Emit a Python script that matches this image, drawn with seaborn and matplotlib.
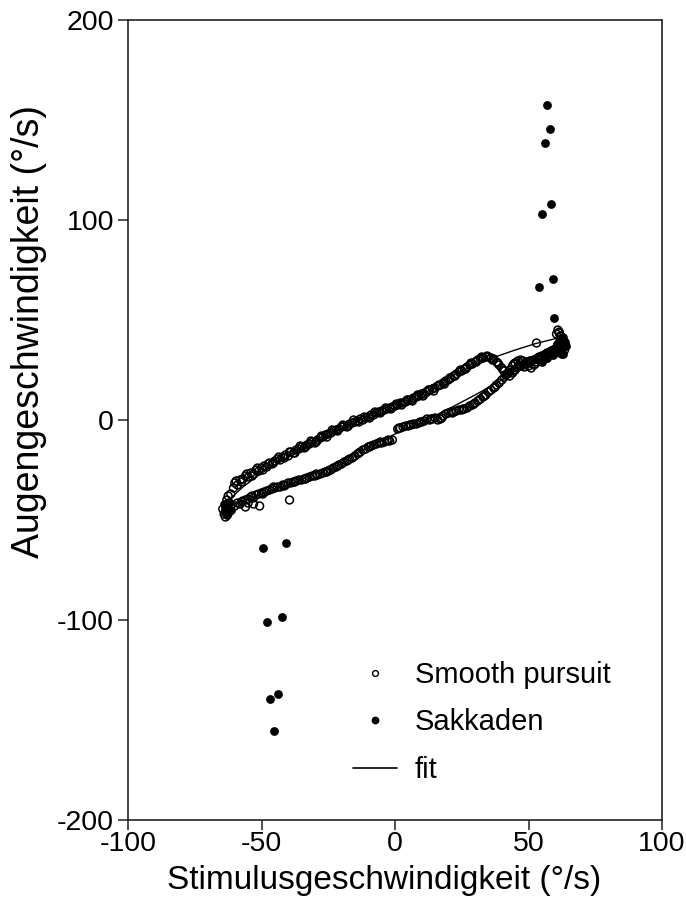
import matplotlib
matplotlib.use("Agg")
import matplotlib.pyplot as plt
from matplotlib.lines import Line2D
import seaborn as sns
import pandas as pd

# ---------------- data ----------------
# Smooth pursuit: upper branch of the loop
sp_upper_x = [-61.5, -60.5, -60, -59, -58, -57, -56, -55, -54, -53, -52, -51, -50, -49, -48, -47, -46, -45,
              -44, -43, -42, -41, -40, -39, -38, -37, -36, -35, -34, -33, -32, -31, -30, -29, -28, -27, -26,
              -25, -24, -23, -22, -21, -20, -19, -18, -17, -16, -15, -14, -13, -12, -11, -10, -9, -8, -7,
              -6, -5, -4, -3, -2, -1, 0, 1, 2, 3, 4, 5, 6, 7, 8, 9, 10, 11, 12, 13, 14, 15, 16, 17, 18,
              19, 20, 21, 22, 23, 24, 25, 26, 27, 28, 29, 30, 31, 32, 33, 34, 35, 36, 37, 38, 39, 40, 41,
              42, 43, 44, 45, 46, 47, 48, 49, 50, 51, 52, 53, 54, 55, 56, 57, 58, 59, 60, 61, 62]
sp_upper_y = [-37, -34, -31.5, -32.5, -30, -29.5, -28, -28.5, -26.5, -27, -25, -25.5, -24, -23, -23.5, -21.5,
              -22, -20.5, -19.5, -20, -18.5, -17.5, -18, -16, -16.5, -15, -14.5, -13.5, -14, -12.5, -12, -11,
              -11.5, -10, -9, -8.5, -7.5, -7, -6.5, -5.5, -5, -4.5, -3.5, -3, -3.5, -2, -1.5, -1, -0.5, 0.5,
              0, 1, 1.5, 2.5, 2.5, 3.5, 4, 4.5, 5, 5.5, 6, 6.5, 7, 7.5, 8.5, 8.5, 9, 10, 10, 11, 11.5, 12,
              13, 13, 14, 15, 15.5, 16, 17, 17.5, 18.5, 19.5, 20, 21, 22, 23, 24, 24.5, 25.5, 26.5, 27.5,
              28, 29, 30, 30.5, 31, 31.5, 31.5, 31, 30.5, 29, 27.5, 26, 24.5, 23, 22, 23.5, 25, 26.5, 27,
              27.5, 28, 27, 26, 27.5, 29, 30, 31, 32, 32.5, 33.5, 34.5, 35.5, 37, 38]
# Smooth pursuit: second pass along the upper branch
sp_upper2_x = [-59.5, -57.5, -55.5, -53.5, -51.5, -49.5, -47.5, -45.5, -43.5, -41.5, -39.5, -37.5, -35.5,
               -33.5, -31.5, -29.5, -27.5, -25.5, -23.5, -21.5, -19.5, -17.5, -15.5, -13.5, -11.5, -9.5,
               -7.5, -5.5, -3.5, -1.5, 0.5, 2.5, 4.5, 6.5, 8.5, 10.5, 12.5, 14.5, 16.5, 18.5, 20.5, 22.5,
               24.5, 26.5, 28.5, 30.5, 32.5, 34.5, 36.5, 38.5, 40.5, 42.5, 44.5, 46.5, 48.5, 50.5, 52.5,
               54.5, 56.5, 58.5, 60.5]
sp_upper2_y = [-30.5, -31, -27, -28, -24, -25, -22, -21.5, -18.5, -19, -16, -16.5, -13, -13.5, -10.5, -11,
               -8, -8.5, -5, -5.5, -2.5, -3, 0, -1, 1.5, 1, 4, 3.5, 6, 5.5, 8, 7.5, 10, 9.5, 12.5, 12, 15,
               14.5, 17.5, 18, 21, 22, 25, 25.5, 28.5, 29, 31.5, 32, 30, 28.5, 25, 23.5, 24.5, 27.5, 26.5,
               28.5, 28, 31.5, 31, 34.5, 35]
# Smooth pursuit: lower branch of the loop
sp_lower_x = [-60, -59, -58, -57, -56, -55, -54, -53, -52, -51, -50, -49, -48, -47, -46, -45, -44, -43, -42,
              -41, -40, -39, -38, -37, -36, -35, -34, -33, -32, -31, -30, -29, -28, -27, -26, -25, -24, -23,
              -22, -21, -20, -19, -18, -17, -16, -15, -14, -13, -12, -11, -10, -9, -8, -7, -6, -5, -4, -3,
              -2, -1, 1, 2, 3, 4, 5, 6, 7, 8, 9, 10, 11, 12, 13, 14, 15, 16, 17, 18, 19, 20, 21, 22, 23,
              24, 25, 26, 27, 28, 29, 30, 31, 32, 33, 34, 35, 36, 37, 38, 39, 40, 41, 42, 43, 44, 45, 46,
              47, 48, 49, 50, 51, 52, 53, 54, 55, 56, 57, 58, 59, 60, 61]
sp_lower_y = [-43, -41.5, -42, -40.5, -40, -39.5, -38.5, -39, -37.5, -37, -36.5, -36, -35.5, -35, -34.5, -34,
              -33.5, -33.5, -32.5, -32.5, -31.5, -31.5, -31, -30.5, -30, -30, -29.5, -29, -28.5, -28, -28,
              -27.5, -27, -26.5, -26, -25.5, -25, -24, -23.5, -22.5, -22, -21, -20.5, -19.5, -19, -18, -17,
              -16, -15, -14.5, -13.5, -13, -12.5, -12, -11.5, -11.5, -11, -10.5, -10.5, -10, -4.5, -4,
              -3.5, -3, -3, -2.5, -2, -2, -1.5, -1, -0.5, 0.5, 0, 0.5, 1, 0, 0.5, 2, 3, 3.5, 4, 4, 4.5, 5,
              5, 5.5, 6, 7, 7.5, 8.5, 9.5, 10.5, 11.5, 12.5, 14, 15, 16, 17.5, 18.5, 20, 21.5, 23, 25, 27,
              28.5, 29.5, 30, 29.5, 29, 29, 29.5, 30, 30.5, 31.5, 32, 32.5, 33.5, 34, 34.5, 35.5, 36.5]
# Smooth pursuit: second pass along the lower branch
sp_lower2_x = [-57.5, -53.5, -49.5, -45.5, -41.5, -37.5, -33.5, -29.5, -25.5, -21.5, -17.5, -13.5, -9.5,
               -5.5, -2.5, 1.5, 5.5, 9.5, 13.5, 17.5, 21.5, 25.5, 29.5, 33.5, 37.5, 41.5, 44.5, 47.5, 50.5,
               53.5, 56.5, 59.5]
sp_lower2_y = [-41, -38, -37, -33.5, -33, -31, -29.5, -27, -26, -23, -20, -16.5, -13.5, -11, -10, -4, -2.5,
               -1, 0.5, 1, 3.5, 5.5, 8, 12, 16.5, 22.5, 28, 29.5, 29.5, 31, 33, 35]
# Smooth pursuit: turning-point clusters and isolated points
sp_extra_x = [61.5, 62, 62.5, 63, 63.5, 62.5, 61, 63, 62, 61.5, 60.5,
              -63, -63.5, -62.5, -64, -62, -63, -62.5, -61.5, -64.5, -63.5, -55, -53, -56,
              -50.7, -39.5, 53, 61, 61.5]
sp_extra_y = [38.5, 40, 36, 38, 35, 33, 34, 41, 42, 44, 43,
              -44, -46, -42, -47, -45.5, -40, -38, -43, -44.5, -48.5, -41.5, -42, -43.5,
              -43, -40, 38.5, 45, 43.5]

# Sakkaden (filled points)
sak_x = [57.0, 57.9, 56.0, 58.5, 55.1, 59.1, 54.1, 59.7,
         60.5, 62, 63, 61.5, 63.5, 62.5, 64, 55, 57, 59,
         -41.0, -49.3, -42.4, -48.1, -43.7, -46.7, -45.2,
         -63.5, -62.5, -64, -61.5, -63, -62]
sak_y = [157.5, 145.3, 138.7, 107.8, 103.2, 70.3, 66.3, 50.8,
         38, 36, 33, 34, 39, 41, 37, 29, 31, 32.5,
         -61.7, -63.8, -98.3, -101, -137.2, -139.3, -155.5,
         -44, -46.5, -42, -45, -47.5, -41]

# Fit curve (closed loop)
fit_x = [-63.5, -62, -59.5, -55, -50, -45, -38.3, -30, -20, -7, 0, 9.2, 20, 30, 40, 48, 55, 60, 63,
         60.4, 52.9, 45, 37.9, 30, 20, 10, 0, -10, -20, -30, -40, -50, -57, -61, -63.5]
fit_y = [-44.5, -43.5, -41.7, -39.5, -37, -34.5, -31.7, -26.5, -20, -11.7, -7, -1.7, 5.5, 12.5, 20, 27, 33,
         37.5, 41, 40.8, 38.3, 35, 31.7, 27.5, 21.5, 15, 8.5, 2, -4.5, -11.5, -18.5, -26.5, -33.5, -38.5,
         -44.5]

x_ticks = [-100, -50, 0, 50, 100]
y_ticks = [-200, -100, 0, 100, 200]
x_label = "Stimulusgeschwindigkeit (°/s)"
y_label = "Augengeschwindigkeit (°/s)"
legend_labels = ["Smooth pursuit", "Sakkaden", "fit"]

# ---------------- figure ----------------
sns.set_theme(style="white")
plt.rcParams["font.family"] = ["Liberation Sans", "DejaVu Sans"]

fig = plt.figure(figsize=(6.86, 9.11), dpi=100)
ax = fig.add_axes([128 / 686, 91 / 911, 534 / 686, 800 / 911])

sp_df = pd.DataFrame({"x": sp_upper_x + sp_upper2_x + sp_lower_x + sp_lower2_x + sp_extra_x,
                      "y": sp_upper_y + sp_upper2_y + sp_lower_y + sp_lower2_y + sp_extra_y})
sak_df = pd.DataFrame({"x": sak_x, "y": sak_y})
fit_df = pd.DataFrame({"x": fit_x, "y": fit_y})

sns.lineplot(data=fit_df, x="x", y="y", sort=False, estimator=None, color="black",
             linewidth=1.0, ax=ax, zorder=3)
sns.scatterplot(data=sp_df, x="x", y="y", ax=ax, s=32, marker="o",
                facecolors="none", edgecolors="black", linewidth=1.1, zorder=2)
sns.scatterplot(data=sak_df, x="x", y="y", ax=ax, s=40, marker="o",
                color="black", edgecolor="black", linewidth=0, zorder=4)

ax.set_xlim(-100, 100)
ax.set_ylim(-200, 200)
ax.set_xticks(x_ticks)
ax.set_yticks(y_ticks)
ax.set_xticklabels([str(v) for v in x_ticks])
ax.set_yticklabels([str(v) for v in y_ticks])
ax.tick_params(axis="both", which="major", direction="out", length=7.5, width=1.1,
               color="#222222", labelsize=20.5, pad=2.5, labelcolor="black",
               bottom=True, left=True, top=False, right=False)
ax.tick_params(axis="x", pad=0.5)
for sp in ax.spines.values():
    sp.set_visible(True)
    sp.set_color("#222222")
    sp.set_linewidth(1.2)

ax.set_xlabel(x_label, fontsize=24, color="black")
ax.set_ylabel(y_label, fontsize=27, color="black")
ax.xaxis.set_label_coords(0.479, -0.056)
ax.yaxis.set_label_coords(-0.152, 0.611)

handles = [
    Line2D([], [], linestyle="none", marker="o", markersize=4.2, markerfacecolor="none",
           markeredgecolor="black", markeredgewidth=1.0),
    Line2D([], [], linestyle="none", marker="o", markersize=4.6, markerfacecolor="black",
           markeredgecolor="black"),
    Line2D([], [], color="black", linewidth=1.2),
]
ax.legend(handles, legend_labels, loc="upper left", bbox_to_anchor=(0.421, 0.199),
          frameon=False, fontsize=21, handlelength=1.5, handletextpad=0.62,
          labelspacing=0.67, borderpad=0, borderaxespad=0, labelcolor="black")

fig.savefig("out.png", dpi=100)
